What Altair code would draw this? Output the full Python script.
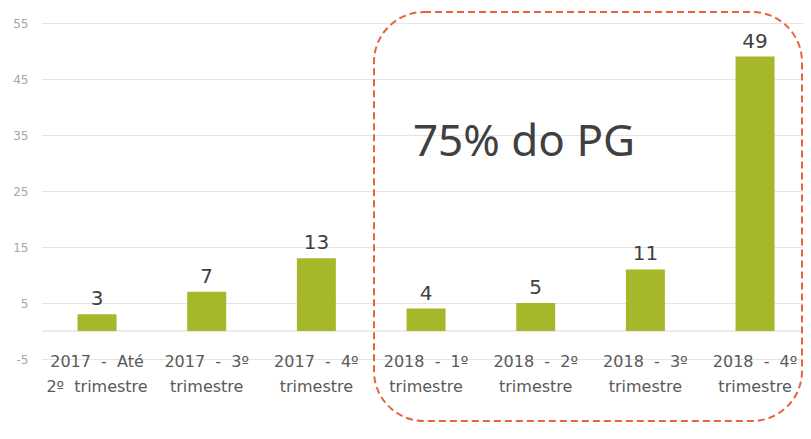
import altair as alt
import pandas as pd

NB = "\u00a0"
categories = [
    f"2017{NB}{NB}-{NB}{NB}Até\n2º{NB}{NB}trimestre",
    f"2017{NB}{NB}-{NB}{NB}3º\ntrimestre",
    f"2017{NB}{NB}-{NB}{NB}4º\ntrimestre",
    f"2018{NB}{NB}-{NB}{NB}1º\ntrimestre",
    f"2018{NB}{NB}-{NB}{NB}2º\ntrimestre",
    f"2018{NB}{NB}-{NB}{NB}3º\ntrimestre",
    f"2018{NB}{NB}-{NB}{NB}4º\ntrimestre",
]
values = [3, 7, 13, 4, 5, 11, 49]
y_ticks = [-5, 5, 15, 25, 35, 45, 55]
annotation = "75% do PG"

df = pd.DataFrame({"cat": categories, "val": values})

BAR = "#a6b82a"
FONT = "DejaVu Sans"

x_enc = alt.X("cat:N", sort=categories, title=None,
              scale=alt.Scale(paddingInner=0.6, paddingOuter=0.2695, align=0.56),
              axis=alt.Axis(labels=False, ticks=False, domain=False, grid=False))
y_scale = alt.Scale(domain=[-5, 55], nice=False, zero=False)

base = alt.Chart(df)

bars = base.mark_bar(color=BAR, size=39).encode(
    x=x_enc,
    y=alt.Y("val:Q", scale=y_scale, title=None,
            axis=alt.Axis(values=y_ticks, domain=False, ticks=False, labelPadding=14,
                          labelExpr="toString(datum.value)",
                          labelColor="#a6a6a6", labelFontSize=12, labelFont=FONT,
                          gridColor="#e4e4e4", gridWidth=1)),
    y2=alt.datum(0),
)

zero_rule = alt.Chart(pd.DataFrame({"z": [0]})).mark_rule(color="#d9d9d9", strokeWidth=1).encode(
    y=alt.Y("z:Q", scale=y_scale)
)

labels = base.mark_text(baseline="alphabetic", dy=-9, fontSize=20, font=FONT, color="#404040").encode(
    x=x_enc,
    y=alt.Y("val:Q", scale=y_scale),
    text=alt.Text("val:Q"),
)

xlabels = base.mark_text(baseline="alphabetic", fontSize=16, font=FONT, color="#595959",
                         lineBreak="\n", lineHeight=25).encode(
    x=x_enc,
    y=alt.value(344),
    text="cat:N",
)

note = alt.Chart(pd.DataFrame({"t": [annotation]})).mark_text(
    fontSize=44, font="Noto Sans", color="#404040", baseline="alphabetic", align="center"
).encode(text="t:N", x=alt.value(482), y=alt.value(133))

box = alt.Chart(pd.DataFrame({"b": [1]})).mark_rect(
    fill="transparent", stroke="#e8643c", strokeWidth=2, strokeDash=[7, 4], cornerRadius=50
).encode(x=alt.value(332), x2=alt.value(760), y=alt.value(-11), y2=alt.value(398))

chart = alt.layer(zero_rule, bars, labels, xlabels, note, box).properties(
    width=761, height=336,
    autosize=alt.AutoSizeParams(type="none"),
    padding={"left": 34, "top": 15, "right": 0, "bottom": 64},
).configure_view(stroke=None)

chart.save("out.html", embed_options={"renderer": "svg", "actions": False})
